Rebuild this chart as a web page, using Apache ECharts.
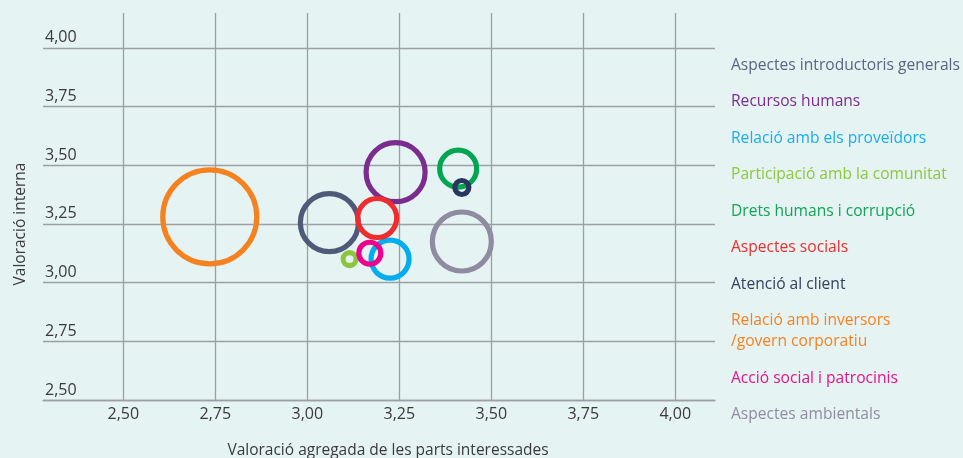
<!DOCTYPE html>
<html>
<head>
<meta charset="utf-8">
<script src="https://cdn.jsdelivr.net/npm/echarts@6/dist/echarts.min.js"></script>
<style>
  html, body { margin: 0; padding: 0; background: #e6f3f3; }
  #chart { width: 963px; height: 458px; }
</style>
</head>
<body>
<div id="chart"></div>
<script>
// Topics of the materiality matrix
const topics = [
  'Aspectes introductoris generals',
  'Recursos humans',
  'Relació amb els proveïdors',
  'Participació amb la comunitat',
  'Drets humans i corrupció',
  'Aspectes socials',
  'Atenció al client',
  'Relació amb inversors\n/govern corporatiu',
  'Acció social i patrocinis',
  'Aspectes ambientals'
];
// Stakeholders' aggregated score (x)
const stakeholderScore = [3.06, 3.24, 3.225, 3.115, 3.41, 3.19, 3.42, 2.735, 3.17, 3.42];
// Internal score (y)
const internalScore = [3.255, 3.47, 3.10, 3.10, 3.485, 3.275, 3.405, 3.28, 3.125, 3.175];
// Relative weight of each topic (bubble size)
const weight = [58, 59, 38, 13, 37, 39, 14, 94, 22, 59];
// Axis tick values
const xTicks = [2.5, 2.75, 3.0, 3.25, 3.5, 3.75, 4.0];
const yTicks = [2.5, 2.75, 3.0, 3.25, 3.5, 3.75, 4.0];

const ringColors = ['#4f5a78', '#7b2c8f', '#00aeef', '#8cc63f', '#00a551', '#ee2d2f',
                    '#28375b', '#f5821f', '#ec008c', '#8f8ba1'];
const textColors = ['#5b6582', '#7b2c8f', '#19aee8', '#8dc63f', '#13a457', '#ee2d2f',
                    '#34405e', '#f5821f', '#e5158c', '#8f8ca0'];

const fmt = v => v.toFixed(2).replace('.', ',');
const FONT = 'Open Sans';

const series = topics.map((name, i) => ({
  name: name,
  type: 'scatter',
  data: [[stakeholderScore[i], internalScore[i], weight[i]]],
  symbol: 'circle',
  symbolSize: d => d[2],
  itemStyle: { color: 'rgba(0,0,0,0)', borderColor: ringColors[i], borderWidth: 5.2, opacity: 1 },
  emphasis: { disabled: true },
  z: 2 + i
}));

const chart = echarts.init(document.getElementById('chart'), null, { renderer: 'canvas' });
chart.setOption({
  backgroundColor: '#e6f3f3',
  animation: false,
  grid: { left: 43, right: 248, top: 13, bottom: 58, containLabel: false, outerBoundsMode: 'none' },
  xAxis: {
    type: 'value',
    min: 2.2818, max: 4.108,
    name: 'Valoració agregada de les parts interessades',
    nameLocation: 'middle',
    nameGap: 43,
    nameTextStyle: { fontFamily: FONT, fontSize: 15.5, color: '#3a3a3a', padding: [0, 0, 0, 18] },
    axisLine: { show: true, lineStyle: { color: '#9c9fa3', width: 1.3 } },
    axisTick: { show: false, customValues: xTicks },
    axisLabel: {
      customValues: xTicks, formatter: fmt, margin: 6,
      fontFamily: FONT, fontSize: 16, color: '#3a3a3a'
    },
    splitLine: { show: true, lineStyle: { color: '#9c9fa3', width: 1.3 } }
  },
  yAxis: {
    type: 'value',
    min: 2.5, max: 4.148,
    name: 'Valoració interna',
    nameLocation: 'middle',
    nameGap: 14,
    nameTextStyle: { fontFamily: FONT, fontSize: 15.5, color: '#3a3a3a', padding: [0, 35, 0, 0] },
    axisLine: { show: false },
    axisTick: { show: false, customValues: yTicks },
    axisLabel: {
      customValues: yTicks, formatter: fmt, inside: true, align: 'left',
      verticalAlign: 'bottom', margin: 2, padding: [0, 0, 2, 0],
      fontFamily: FONT, fontSize: 16, color: '#3a3a3a'
    },
    splitLine: { show: true, lineStyle: { color: '#9c9fa3', width: 1.3 } }
  },
  legend: {
    orient: 'vertical',
    left: 720, top: 50,
    itemWidth: 0, itemHeight: 0,
    itemGap: 15.5,
    icon: 'circle',
    itemStyle: { opacity: 0 },
    selectedMode: false,
    textStyle: { fontFamily: FONT, fontSize: 15.6, lineHeight: 21 },
    data: topics.map((name, i) => ({ name: name, textStyle: { color: textColors[i] } }))
  },
  series: series
});
</script>
</body>
</html>
